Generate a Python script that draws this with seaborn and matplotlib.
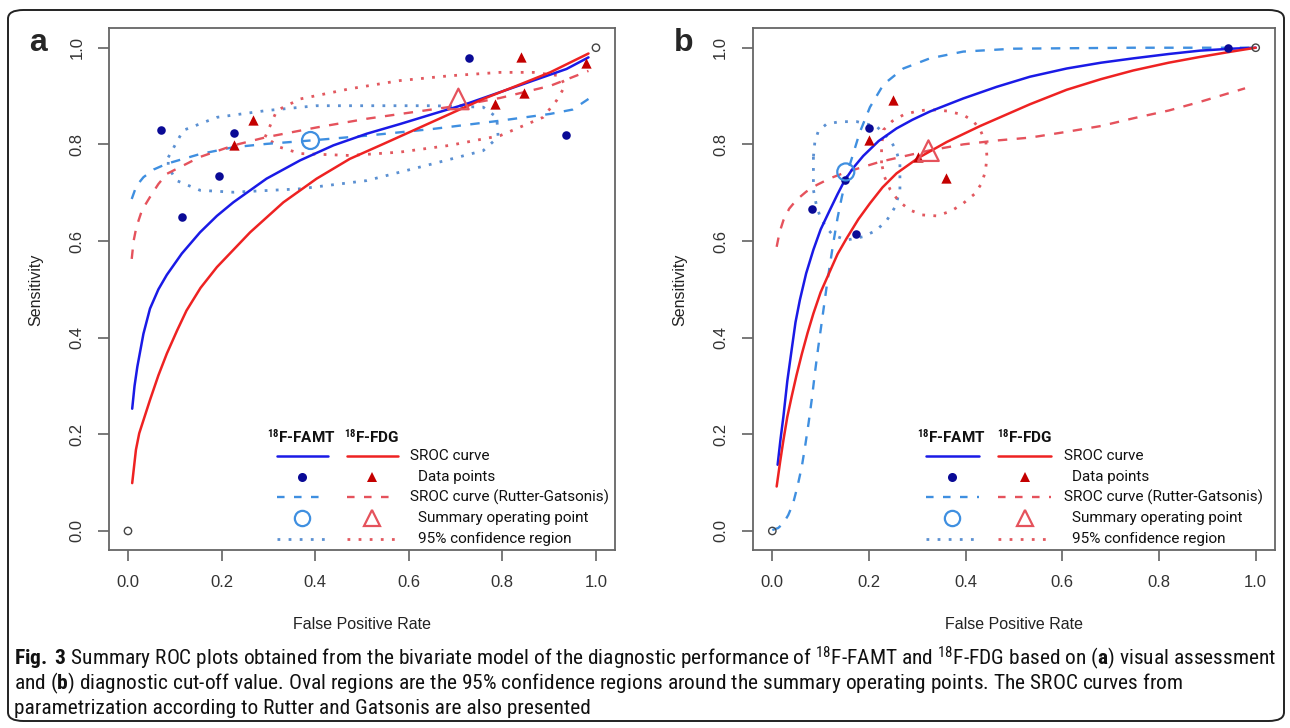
import matplotlib
matplotlib.use('Agg')
import matplotlib.pyplot as plt
import seaborn as sns
from matplotlib import font_manager
from matplotlib.patches import FancyBboxPatch

# ---- panel a: visual assessment ----
a_famt_pts_fpr = [0.070, 0.115, 0.194, 0.226, 0.729, 0.935]
a_famt_pts_sens = [0.829, 0.649, 0.735, 0.824, 0.978, 0.820]
a_fdg_pts_fpr = [0.226, 0.268, 0.784, 0.840, 0.846, 0.978]
a_fdg_pts_sens = [0.798, 0.851, 0.884, 0.980, 0.906, 0.968]
a_famt_sum = [0.390, 0.808]
a_fdg_sum = [0.706, 0.894]

a_famt_sroc_fpr = [0.009, 0.014, 0.020, 0.033, 0.047, 0.065, 0.083, 0.115, 0.154, 0.190, 0.225, 0.296, 0.368, 0.439, 0.510, 0.581, 0.652, 0.724, 0.795, 0.866, 0.937, 0.984]
a_famt_sroc_sens = [0.253, 0.300, 0.340, 0.408, 0.460, 0.500, 0.530, 0.574, 0.618, 0.652, 0.680, 0.729, 0.767, 0.798, 0.822, 0.842, 0.863, 0.884, 0.908, 0.932, 0.956, 0.980]
a_fdg_sroc_fpr = [0.009, 0.017, 0.024, 0.047, 0.065, 0.083, 0.105, 0.125, 0.155, 0.190, 0.261, 0.332, 0.403, 0.474, 0.546, 0.617, 0.688, 0.759, 0.830, 0.902, 0.984]
a_fdg_sroc_sens = [0.099, 0.168, 0.202, 0.271, 0.322, 0.367, 0.415, 0.456, 0.503, 0.546, 0.618, 0.680, 0.729, 0.770, 0.801, 0.832, 0.863, 0.894, 0.921, 0.949, 0.988]

a_famt_rg_fpr = [0.008, 0.018, 0.033, 0.055, 0.083, 0.154, 0.225, 0.296, 0.390, 0.510, 0.652, 0.795, 0.902, 0.950, 0.984]
a_famt_rg_sens = [0.687, 0.714, 0.732, 0.748, 0.760, 0.780, 0.794, 0.801, 0.808, 0.818, 0.832, 0.849, 0.863, 0.872, 0.894]
a_fdg_rg_fpr = [0.008, 0.012, 0.018, 0.030, 0.047, 0.065, 0.083, 0.154, 0.226, 0.296, 0.403, 0.510, 0.706, 0.795, 0.902, 0.984]
a_fdg_rg_sens = [0.563, 0.600, 0.629, 0.664, 0.691, 0.718, 0.739, 0.774, 0.798, 0.815, 0.835, 0.853, 0.880, 0.896, 0.921, 0.952]

a_famt_ci_fpr = [0.086, 0.118, 0.190, 0.296, 0.403, 0.510, 0.652, 0.759, 0.788, 0.791, 0.759, 0.652, 0.510, 0.368, 0.225, 0.154, 0.104, 0.086, 0.086]
a_famt_ci_sens = [0.773, 0.829, 0.856, 0.870, 0.880, 0.880, 0.880, 0.877, 0.856, 0.815, 0.787, 0.760, 0.725, 0.708, 0.701, 0.705, 0.725, 0.753, 0.773]
a_fdg_ci_fpr = [0.293, 0.318, 0.368, 0.474, 0.581, 0.688, 0.795, 0.866, 0.923, 0.934, 0.916, 0.887, 0.795, 0.688, 0.581, 0.474, 0.368, 0.325, 0.293]
a_fdg_ci_sens = [0.815, 0.870, 0.894, 0.915, 0.932, 0.942, 0.949, 0.949, 0.942, 0.921, 0.891, 0.856, 0.818, 0.798, 0.784, 0.777, 0.781, 0.794, 0.815]

# ---- panel b: diagnostic cut-off value ----
b_famt_pts_fpr = [0.082, 0.150, 0.173, 0.201, 0.943]
b_famt_pts_sens = [0.666, 0.726, 0.615, 0.834, 0.999]
b_fdg_pts_fpr = [0.201, 0.250, 0.302, 0.359]
b_fdg_pts_sens = [0.809, 0.892, 0.774, 0.730]
b_famt_sum = [0.152, 0.743]
b_fdg_sum = [0.323, 0.787]

b_famt_sroc_fpr = [0.011, 0.017, 0.023, 0.031, 0.040, 0.048, 0.057, 0.070, 0.085, 0.100, 0.119, 0.135, 0.150, 0.168, 0.188, 0.220, 0.257, 0.290, 0.326, 0.395, 0.464, 0.533, 0.609, 0.680, 0.747, 0.820, 0.885, 0.950, 1.0]
b_famt_sroc_sens = [0.137, 0.190, 0.237, 0.310, 0.375, 0.432, 0.478, 0.533, 0.582, 0.624, 0.664, 0.697, 0.726, 0.752, 0.776, 0.807, 0.833, 0.851, 0.868, 0.895, 0.919, 0.940, 0.957, 0.969, 0.978, 0.987, 0.994, 0.998, 1.0]
b_fdg_sroc_fpr = [0.009, 0.016, 0.023, 0.031, 0.040, 0.050, 0.061, 0.073, 0.085, 0.100, 0.119, 0.135, 0.154, 0.178, 0.202, 0.228, 0.257, 0.302, 0.361, 0.430, 0.533, 0.609, 0.680, 0.747, 0.820, 0.885, 0.950, 1.0]
b_fdg_sroc_sens = [0.092, 0.142, 0.188, 0.236, 0.278, 0.322, 0.366, 0.410, 0.450, 0.494, 0.537, 0.573, 0.606, 0.645, 0.678, 0.711, 0.740, 0.772, 0.805, 0.838, 0.883, 0.913, 0.935, 0.953, 0.969, 0.981, 0.992, 1.0]

b_famt_rg_fpr = [0.0, 0.012, 0.023, 0.033, 0.043, 0.052, 0.061, 0.068, 0.075, 0.082, 0.088, 0.095, 0.102, 0.113, 0.126, 0.135, 0.144, 0.161, 0.181, 0.202, 0.230, 0.271, 0.326, 0.395, 0.499, 0.747, 1.0]
b_famt_rg_sens = [0.002, 0.006, 0.016, 0.033, 0.057, 0.092, 0.133, 0.176, 0.223, 0.275, 0.326, 0.380, 0.430, 0.510, 0.595, 0.648, 0.692, 0.760, 0.825, 0.877, 0.924, 0.957, 0.978, 0.992, 0.998, 1.0, 1.0]
b_fdg_rg_fpr = [0.009, 0.015, 0.023, 0.035, 0.050, 0.070, 0.092, 0.120, 0.154, 0.223, 0.323, 0.395, 0.464, 0.533, 0.609, 0.680, 0.747, 0.820, 0.885, 0.978]
b_fdg_rg_sens = [0.588, 0.618, 0.643, 0.667, 0.685, 0.702, 0.716, 0.730, 0.743, 0.764, 0.787, 0.800, 0.808, 0.814, 0.826, 0.838, 0.854, 0.870, 0.888, 0.916]

b_famt_ci_fpr = [0.085, 0.085, 0.091, 0.099, 0.112, 0.126, 0.154, 0.188, 0.215, 0.237, 0.255, 0.264, 0.264, 0.256, 0.244, 0.216, 0.175, 0.140, 0.112, 0.095, 0.088, 0.085]
b_famt_ci_sens = [0.774, 0.706, 0.675, 0.650, 0.627, 0.612, 0.602, 0.609, 0.622, 0.643, 0.672, 0.706, 0.761, 0.788, 0.809, 0.837, 0.847, 0.847, 0.842, 0.827, 0.805, 0.774]
b_fdg_ci_fpr = [0.226, 0.226, 0.230, 0.248, 0.271, 0.300, 0.326, 0.362, 0.395, 0.416, 0.430, 0.442, 0.444, 0.441, 0.433, 0.418, 0.395, 0.370, 0.340, 0.310, 0.285, 0.262, 0.244, 0.232, 0.226]
b_fdg_ci_sens = [0.761, 0.795, 0.830, 0.848, 0.861, 0.869, 0.872, 0.869, 0.861, 0.848, 0.830, 0.803, 0.774, 0.745, 0.719, 0.697, 0.678, 0.662, 0.652, 0.654, 0.664, 0.682, 0.706, 0.733, 0.761]

ref_fpr = [0.0, 1.0]
ref_sens = [0.0, 1.0]

ticks = [0.0, 0.2, 0.4, 0.6, 0.8, 1.0]
tick_labels = ['0.0', '0.2', '0.4', '0.6', '0.8', '1.0']
legend_labels = ['SROC curve', 'Data points', 'SROC curve (Rutter-Gatsonis)',
                 'Summary operating point', '95% confidence region']
caption_lines = [
    r'$\mathbf{Fig.\ 3}$ Summary ROC plots obtained from the bivariate model of the diagnostic performance of $^{18}$F-FAMT and $^{18}$F-FDG based on ($\mathbf{a}$) visual assessment',
    r'and ($\mathbf{b}$) diagnostic cut-off value. Oval regions are the 95% confidence regions around the summary operating points. The SROC curves from',
    'parametrization according to Rutter and Gatsonis are also presented',
]

# colours
blue_solid, red_solid = '#1a1ae6', '#ee2222'
blue_pt, red_pt = '#0a0a96', '#c40000'
blue_dash, red_dash = '#3f8fe0', '#e5525c'
blue_ci, red_ci = '#5b90d2', '#e2585f'

sns.set_theme(style='white')
available = {f.name for f in font_manager.fontManager.ttflist}
cap_font = 'Roboto'
for name in ['Liberation Sans Narrow', 'Roboto Condensed', 'DejaVu Sans Condensed']:
    if name in available:
        cap_font = name
        break
plt.rcParams['font.family'] = ['Liberation Sans', 'DejaVu Sans']
plt.rcParams['mathtext.fontset'] = 'custom'
plt.rcParams['mathtext.rm'] = cap_font
plt.rcParams['mathtext.bf'] = cap_font + ':bold'
plt.rcParams['mathtext.it'] = cap_font + ':italic'

fig = plt.figure(figsize=(12.9, 7.28), dpi=100)
ax_a = fig.add_axes([0.0847, 0.2441, 0.3918, 0.7169])
ax_b = fig.add_axes([0.5837, 0.2441, 0.4047, 0.7169])

dot = (0, (1, 3))
dash = (0, (4, 4))


def draw_panel(ax, famt_sroc, fdg_sroc, famt_rg, fdg_rg, famt_ci, fdg_ci,
               famt_pts, fdg_pts, famt_sum, fdg_sum):
    sns.lineplot(x=famt_ci[0], y=famt_ci[1], sort=False, estimator=None, color=blue_ci,
                 lw=2, linestyle=dot, ax=ax, legend=False)
    sns.lineplot(x=fdg_ci[0], y=fdg_ci[1], sort=False, estimator=None, color=red_ci,
                 lw=2, linestyle=dot, ax=ax, legend=False)
    sns.lineplot(x=famt_rg[0], y=famt_rg[1], sort=False, estimator=None, color=blue_dash,
                 lw=1.7, linestyle=dash, ax=ax, legend=False)
    sns.lineplot(x=fdg_rg[0], y=fdg_rg[1], sort=False, estimator=None, color=red_dash,
                 lw=1.7, linestyle=dash, ax=ax, legend=False)
    sns.lineplot(x=famt_sroc[0], y=famt_sroc[1], sort=False, estimator=None, color=blue_solid,
                 lw=1.8, ax=ax, legend=False)
    sns.lineplot(x=fdg_sroc[0], y=fdg_sroc[1], sort=False, estimator=None, color=red_solid,
                 lw=1.8, ax=ax, legend=False)
    sns.scatterplot(x=famt_pts[0], y=famt_pts[1], marker='o', s=38, color=blue_pt,
                    linewidth=0, ax=ax, legend=False, zorder=4)
    sns.scatterplot(x=fdg_pts[0], y=fdg_pts[1], marker='^', s=55, color=red_pt,
                    linewidth=0, ax=ax, legend=False, zorder=4)
    sns.scatterplot(x=[famt_sum[0]], y=[famt_sum[1]], marker='o', s=150, facecolor='none',
                    edgecolor=blue_dash, linewidth=1.6, ax=ax, legend=False, zorder=5)
    sns.scatterplot(x=[fdg_sum[0]], y=[fdg_sum[1]], marker='^', s=220, facecolor='none',
                    edgecolor=red_dash, linewidth=1.6, ax=ax, legend=False, zorder=5)
    sns.scatterplot(x=ref_fpr, y=ref_sens, marker='o', s=28, facecolor='none',
                    edgecolor='#444444', linewidth=1.0, ax=ax, legend=False, zorder=5)

    ax.set_xlim(-0.04, 1.04)
    ax.set_ylim(-0.04, 1.04)
    ax.set_xticks(ticks)
    ax.set_xticklabels(tick_labels)
    ax.set_yticks(ticks)
    ax.set_yticklabels(tick_labels, rotation=90, va='center')
    ax.tick_params(axis='both', direction='out', length=8, width=1.1, color='#555555',
                   labelsize=12, labelcolor='#333333', pad=10, left=True, bottom=True)
    for sp in ax.spines.values():
        sp.set_color('#666666')
        sp.set_linewidth(1.3)
    ax.set_xlabel('False Positive Rate', fontsize=11.5, color='#222222')
    ax.set_ylabel('Sensitivity', fontsize=11.5, color='#222222')
    ax.xaxis.label.set_va('center')
    ax.yaxis.label.set_va('center')
    ax.grid(False)


def draw_legend(ax):
    tr = ax.transAxes
    rows = [0.181, 0.140, 0.102, 0.062, 0.022]
    famt_x, fdg_x = (0.332, 0.432), (0.470, 0.571)
    ax.text(0.380, 0.217, r'$\mathbf{^{18}}$F-FAMT', transform=tr, ha='center', va='center',
            fontsize=11, fontweight='bold', family='Roboto', color='#111111')
    ax.text(0.520, 0.217, r'$\mathbf{^{18}}$F-FDG', transform=tr, ha='center', va='center',
            fontsize=11, fontweight='bold', family='Roboto', color='#111111')
    styles = [
        dict(blue=dict(color=blue_solid, lw=1.8), red=dict(color=red_solid, lw=1.8)),
        None,
        dict(blue=dict(color=blue_dash, lw=1.7, linestyle=(0, (3.2, 4))),
             red=dict(color=red_dash, lw=1.7, linestyle=(0, (3.2, 4)))),
        None,
        dict(blue=dict(color=blue_ci, lw=2, linestyle=dot),
             red=dict(color=red_ci, lw=2, linestyle=dot)),
    ]
    for i, y in enumerate(rows):
        st = styles[i]
        if st is not None:
            ax.plot(famt_x, [y, y], transform=tr, clip_on=False, **st['blue'])
            ax.plot(fdg_x, [y, y], transform=tr, clip_on=False, **st['red'])
    cb, cr = sum(famt_x) / 2, sum(fdg_x) / 2
    ax.plot([cb], [rows[1]], 'o', ms=6.5, color=blue_pt, mew=0, transform=tr, clip_on=False)
    ax.plot([cr], [rows[1]], '^', ms=7.5, color=red_pt, mew=0, transform=tr, clip_on=False)
    ax.plot([cb], [rows[3]], 'o', ms=11, mfc='none', mec=blue_dash, mew=1.6, transform=tr, clip_on=False)
    ax.plot([cr], [rows[3]], '^', ms=12, mfc='none', mec=red_dash, mew=1.6, transform=tr, clip_on=False)
    label_x = [0.596, 0.611, 0.596, 0.611, 0.611]
    for lx, y, lab in zip(label_x, rows, legend_labels):
        ax.text(lx, y, lab, transform=tr, ha='left', va='center', fontsize=11,
                family='Roboto', color='#111111')


draw_panel(ax_a, (a_famt_sroc_fpr, a_famt_sroc_sens), (a_fdg_sroc_fpr, a_fdg_sroc_sens),
           (a_famt_rg_fpr, a_famt_rg_sens), (a_fdg_rg_fpr, a_fdg_rg_sens),
           (a_famt_ci_fpr, a_famt_ci_sens), (a_fdg_ci_fpr, a_fdg_ci_sens),
           (a_famt_pts_fpr, a_famt_pts_sens), (a_fdg_pts_fpr, a_fdg_pts_sens),
           a_famt_sum, a_fdg_sum)
draw_panel(ax_b, (b_famt_sroc_fpr, b_famt_sroc_sens), (b_fdg_sroc_fpr, b_fdg_sroc_sens),
           (b_famt_rg_fpr, b_famt_rg_sens), (b_fdg_rg_fpr, b_fdg_rg_sens),
           (b_famt_ci_fpr, b_famt_ci_sens), (b_fdg_ci_fpr, b_fdg_ci_sens),
           (b_famt_pts_fpr, b_famt_pts_sens), (b_fdg_pts_fpr, b_fdg_pts_sens),
           b_famt_sum, b_fdg_sum)
draw_legend(ax_a)
draw_legend(ax_b)

ax_a.xaxis.set_label_coords(0.5, -0.143)
ax_a.yaxis.set_label_coords(-0.145, 0.5)
ax_b.xaxis.set_label_coords(0.5, -0.143)
ax_b.yaxis.set_label_coords(-0.140, 0.5)

# panel letters
fig.text(38 / 1290, 1 - 43 / 728, 'a', fontsize=23, fontweight='bold', ha='center', va='center')
fig.text(684 / 1290, 1 - 43 / 728, 'b', fontsize=23, fontweight='bold', ha='center', va='center')

# outer frame
frame = FancyBboxPatch((8 / 1290, 1 - 721 / 728), 1276 / 1290, 711 / 728,
                       boxstyle='round,pad=0,rounding_size=0.012', transform=fig.transFigure,
                       fill=False, lw=1.4, ec='#222222')
fig.patches.append(frame)

# caption, scaled so the first line spans the frame width
cap_y = [658, 683, 708]
cap_texts = [fig.text(14 / 1290, 1 - y / 728, line, fontsize=12, family=cap_font,
                      color='#111111', ha='left', va='center')
             for y, line in zip(cap_y, caption_lines)]
fig.canvas.draw()
w = cap_texts[0].get_window_extent().width
scale = 1262 / w
for t in cap_texts:
    t.set_fontsize(12 * scale)

fig.savefig('out.png', dpi=100)
